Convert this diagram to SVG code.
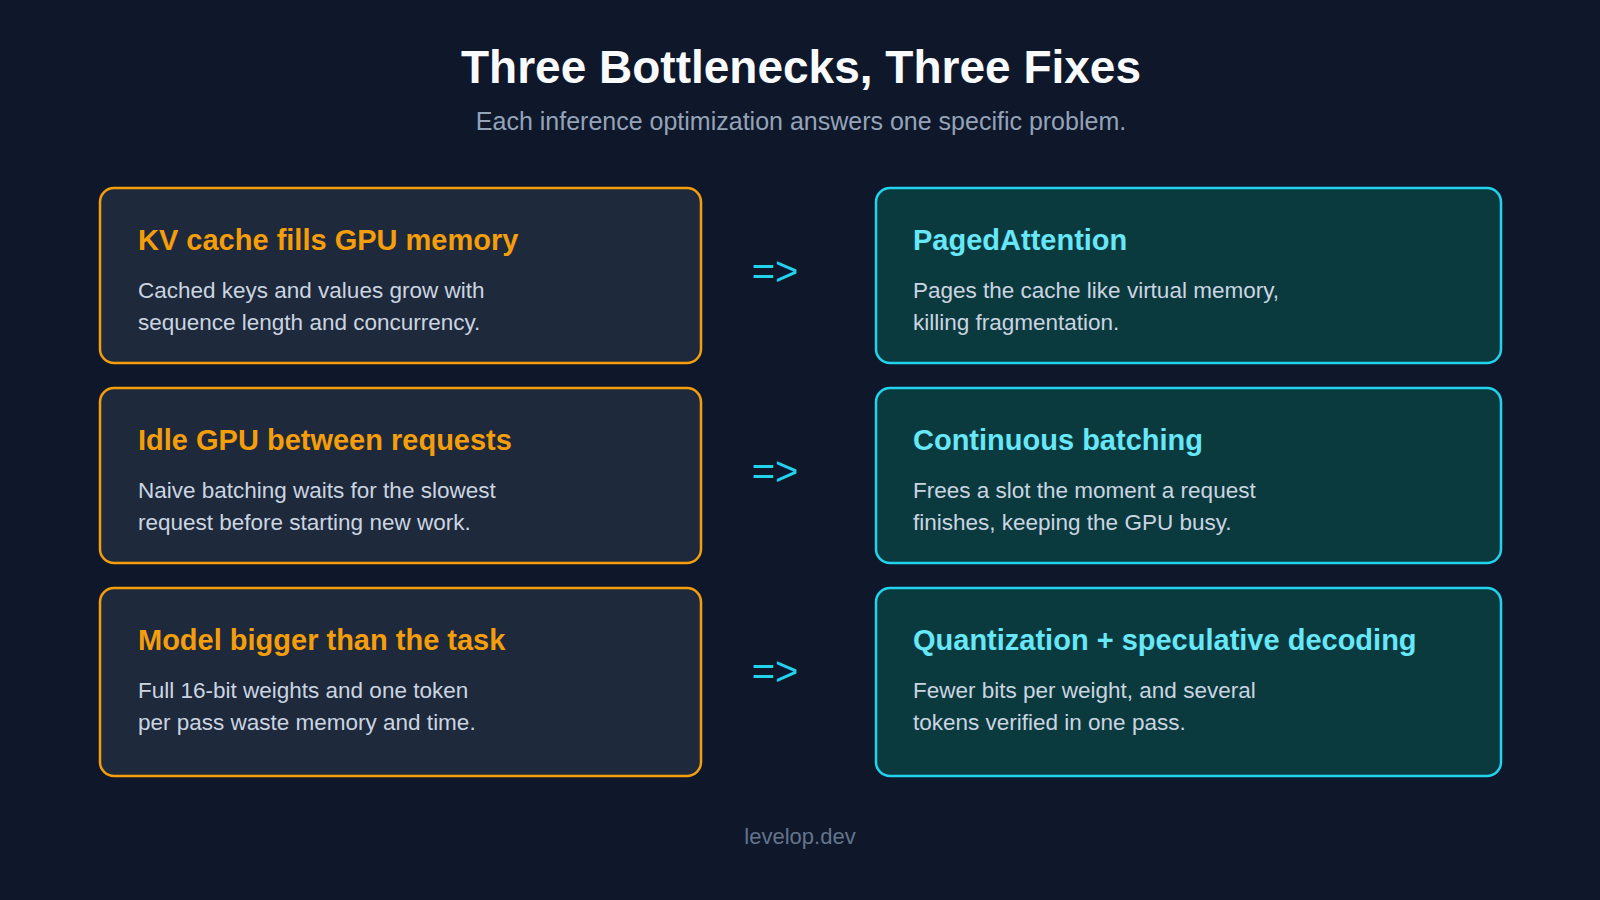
<svg xmlns="http://www.w3.org/2000/svg" width="1600" height="900" viewBox="0 0 1600 900">
<style>
text{font-family:"Liberation Sans",Arial,sans-serif}
.title{font-size:46px;font-weight:bold;fill:#f8fafc}
.sub{font-size:25px;fill:#94a3b8}
.prob rect{fill:#1e293b;stroke:#f59e0b;stroke-width:2.5}
.fix rect{fill:#0b3a3e;stroke:#22d3ee;stroke-width:2.5}
.prob .h{fill:#f59e0b}
.fix .h{fill:#67e8f9}
.h{font-size:29px;font-weight:bold}
.b{font-size:22.5px;fill:#cbd5e1}
.arr{font-size:40px;fill:#22d3ee}
.foot{font-size:22px;fill:#64748b}
</style>
<rect width="1600" height="900" fill="#0f172a"/>
<text class="title" x="801" y="83" text-anchor="middle">Three Bottlenecks, Three Fixes</text>
<text class="sub" x="801" y="130" text-anchor="middle">Each inference optimization answers one specific problem.</text>

<g id="p1" class="prob"><rect x="100" y="188" width="601" height="175" rx="14"/>
<text class="h" x="138" y="250">KV cache fills GPU memory</text>
<text class="b" x="138" y="298">Cached keys and values grow with</text>
<text class="b" x="138" y="330">sequence length and concurrency.</text></g>
<g id="p2" class="prob"><rect x="100" y="388" width="601" height="175" rx="14"/>
<text class="h" x="138" y="450">Idle GPU between requests</text>
<text class="b" x="138" y="498">Naive batching waits for the slowest</text>
<text class="b" x="138" y="530">request before starting new work.</text></g>
<g id="p3" class="prob"><rect x="100" y="588" width="601" height="188" rx="14"/>
<text class="h" x="138" y="650">Model bigger than the task</text>
<text class="b" x="138" y="698">Full 16-bit weights and one token</text>
<text class="b" x="138" y="730">per pass waste memory and time.</text></g>

<g id="f1" class="fix"><rect x="876" y="188" width="625" height="175" rx="14"/>
<text class="h" x="913" y="250">PagedAttention</text>
<text class="b" x="913" y="298">Pages the cache like virtual memory,</text>
<text class="b" x="913" y="330">killing fragmentation.</text></g>
<g id="f2" class="fix"><rect x="876" y="388" width="625" height="175" rx="14"/>
<text class="h" x="913" y="450">Continuous batching</text>
<text class="b" x="913" y="498">Frees a slot the moment a request</text>
<text class="b" x="913" y="530">finishes, keeping the GPU busy.</text></g>
<g id="f3" class="fix"><rect x="876" y="588" width="625" height="188" rx="14"/>
<text class="h" x="913" y="650">Quantization + speculative decoding</text>
<text class="b" x="913" y="698">Fewer bits per weight, and several</text>
<text class="b" x="913" y="730">tokens verified in one pass.</text></g>

<g id="connectors">
<text class="arr" x="775" y="285" text-anchor="middle">=&gt;</text>
<text class="arr" x="775" y="485" text-anchor="middle">=&gt;</text>
<text class="arr" x="775" y="685" text-anchor="middle">=&gt;</text>
</g>
<text class="foot" x="800" y="844" text-anchor="middle">levelop.dev</text>
</svg>
